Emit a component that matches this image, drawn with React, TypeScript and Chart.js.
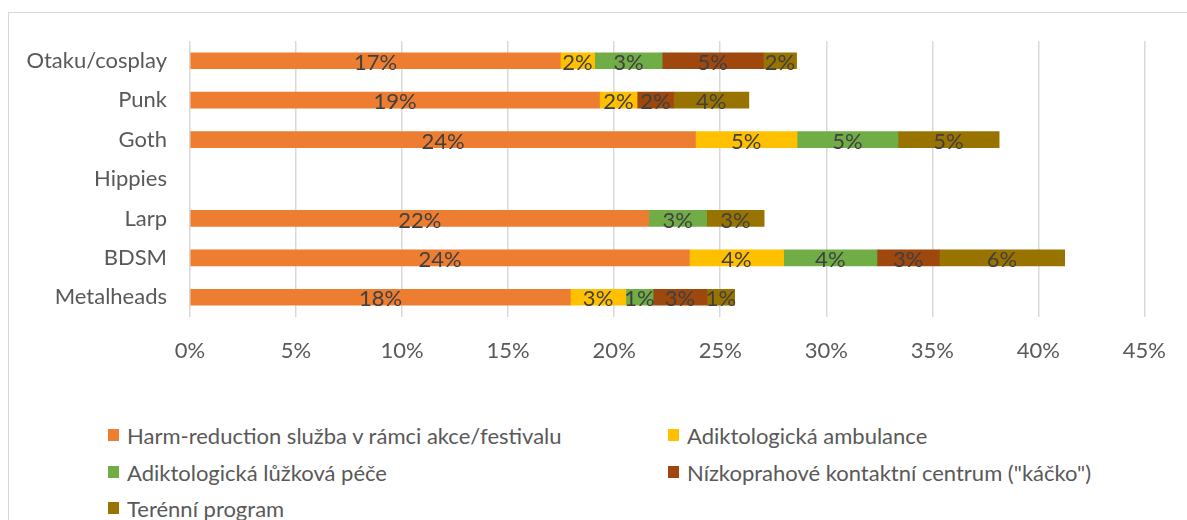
import React, { useEffect, useRef } from "react";
import { Chart, registerables } from "chart.js";

Chart.register(...registerables);

const categories = ["Otaku/cosplay", "Punk", "Goth", "Hippies", "Larp", "BDSM", "Metalheads"];
const seriesNames = [
  "Harm-reduction služba v rámci akce/festivalu",
  "Adiktologická ambulance",
  "Adiktologická lůžková péče",
  "Nízkoprahové kontaktní centrum (\"káčko\")",
  "Terénní program",
];
const harmReduction = [17.46, 19.31, 23.83, null, 21.63, 23.54, 17.93];
const ambulance = [1.62, 1.77, 4.79, null, null, 4.45, 2.62];
const luzkova = [3.18, null, 4.76, null, 2.73, 4.4, 1.28];
const nizkoprahove = [4.77, 1.72, null, null, null, 2.94, 2.55];
const terenni = [1.57, 3.55, 4.77, null, 2.71, 5.91, 1.3];
const colors = ["#ED7D31", "#FFC000", "#70AD47", "#9E480E", "#997300"];
const xMax = 45;
const xStep = 5;

const FONT = "Lato, 'Open Sans', sans-serif";

const labelPlugin = {
  id: "segLabels",
  afterDatasetsDraw(chart: any) {
    const ctx = chart.ctx;
    ctx.save();
    ctx.font = `22px ${FONT}`;
    ctx.fillStyle = "#404040";
    ctx.textAlign = "center";
    ctx.textBaseline = "middle";
    chart.data.datasets.forEach((ds: any, di: number) => {
      const meta = chart.getDatasetMeta(di);
      meta.data.forEach((el: any, i: number) => {
        const v = ds.data[i];
        if (v == null || v === 0) return;
        const x = (el.x + el.base) / 2;
        ctx.fillText(Math.round(v) + "%", x, el.y + 2);
      });
    });
    ctx.restore();
  },
};

export default function App() {
  const ref = useRef<HTMLCanvasElement>(null);
  useEffect(() => {
    if (!ref.current) return;
    const all = [harmReduction, ambulance, luzkova, nizkoprahove, terenni];
    const chart = new Chart(ref.current, {
      type: "bar",
      data: {
        labels: categories,
        datasets: all.map((d, i) => ({
          label: seriesNames[i],
          data: d as any,
          backgroundColor: colors[i],
          borderWidth: 0,
          barThickness: 16,
        })),
      },
      options: {
        indexAxis: "y",
        animation: false,
        responsive: false,
        maintainAspectRatio: false,
        layout: { padding: { top: 41, right: 38, left: 0, bottom: 0 } },
        plugins: { legend: { display: false }, tooltip: { enabled: false } },
        scales: {
          x: {
            stacked: true,
            min: 0,
            max: xMax,
            ticks: {
              stepSize: xStep,
              callback: (v: any) => v + "%",
              color: "#595959",
              font: { family: FONT, size: 22 },
              padding: 21,
              maxRotation: 0,
            },
            grid: { color: "#d9d9d9", lineWidth: 1.5, drawTicks: false },
            border: { display: false },
            afterFit: (s: any) => {
              s.height = 53;
            },
          },
          y: {
            stacked: true,
            ticks: {
              color: "#595959",
              font: { family: FONT, size: 22 },
              padding: 23,
            },
            grid: { display: false, drawTicks: false },
            border: { display: false },
            afterFit: (s: any) => {
              s.width = 190;
            },
          },
        },
      },
      plugins: [labelPlugin],
    });
    return () => chart.destroy();
  }, []);

  const legendPos = [
    { x: 108, y: 435 },
    { x: 668, y: 435 },
    { x: 108, y: 472 },
    { x: 668, y: 472 },
    { x: 108, y: 508 },
  ];

  return (
    <div style={{ position: "absolute", left: 0, top: 0, width: 1187, height: 520, overflow: "hidden", background: "#fff" }}>
      <div
        style={{
          position: "absolute",
          left: 8,
          top: 12,
          width: 1179,
          height: 508,
          borderTop: "1px solid #d9d9d9",
          borderLeft: "1px solid #d9d9d9",
          boxSizing: "border-box",
        }}
      />
      <canvas ref={ref} width={1187} height={370} style={{ position: "absolute", left: 0, top: 0, width: 1187, height: 370 }} />
      {seriesNames.map((name, i) => (
        <div
          key={name}
          style={{
            position: "absolute",
            left: legendPos[i].x,
            top: legendPos[i].y - 13,
            height: 26,
            display: "flex",
            alignItems: "center",
            fontFamily: FONT,
            fontSize: 22,
            color: "#595959",
            whiteSpace: "nowrap",
          }}
        >
          <span style={{ display: "inline-block", width: 11, height: 12, background: colors[i], marginRight: 8 }} />
          {name}
        </div>
      ))}
    </div>
  );
}
